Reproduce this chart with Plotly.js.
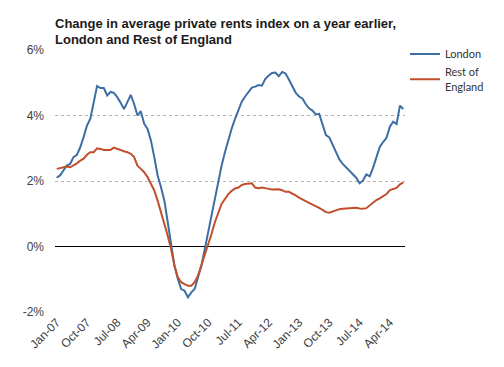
<!DOCTYPE html>
<html>
<head>
<meta charset="utf-8">
<script src="https://cdn.plot.ly/plotly-3.0.1.min.js"></script>
<style>
html,body{margin:0;padding:0;background:#fff;}
#chart{width:504px;height:367px;}
</style>
</head>
<body>
<div id="chart"></div>
<script>
// Monthly data, Jan-07 onwards (index 0 = Jan-07)
const london = [
2.10,2.17,2.32,2.47,2.52,2.73,2.80,3.03,3.34,3.69,
3.90,4.45,4.90,4.84,4.84,4.61,4.72,4.69,4.56,4.39,
4.20,4.41,4.63,4.36,4.00,4.13,3.75,3.59,3.24,2.73,
2.17,1.81,1.40,0.74,0.02,-0.59,-0.99,-1.30,-1.35,-1.55,
-1.40,-1.30,-0.94,-0.59,-0.08,0.43,1.05,1.55,2.06,2.47,
2.88,3.25,3.60,3.90,4.15,4.42,4.58,4.73,4.85,4.88,
4.93,4.91,5.12,5.22,5.30,5.31,5.20,5.33,5.28,5.10,
4.90,4.70,4.58,4.52,4.35,4.22,4.15,4.03,4.05,3.72,
3.40,3.33,3.10,2.87,2.66,2.52,2.42,2.30,2.19,2.10,
1.93,2.01,2.20,2.14,2.40,2.76,3.04,3.19,3.32,3.66,
3.81,3.74,4.30,4.20];
const restOfEngland = [
2.37,2.39,2.42,2.44,2.42,2.47,2.54,2.62,2.68,2.80,
2.88,2.88,3.00,2.98,2.95,2.95,2.95,3.02,2.98,2.93,
2.91,2.88,2.83,2.73,2.47,2.37,2.27,2.12,1.91,1.71,
1.40,1.05,0.64,0.33,-0.08,-0.59,-0.94,-1.09,-1.15,-1.20,
-1.20,-1.09,-0.89,-0.59,-0.28,0.02,0.38,0.74,1.05,1.30,
1.45,1.60,1.70,1.77,1.80,1.88,1.91,1.91,1.93,1.80,
1.78,1.80,1.77,1.76,1.74,1.75,1.75,1.72,1.67,1.67,
1.62,1.56,1.49,1.43,1.38,1.33,1.28,1.24,1.18,1.12,
1.05,1.03,1.07,1.11,1.14,1.15,1.16,1.16,1.17,1.18,
1.16,1.15,1.17,1.25,1.35,1.42,1.47,1.53,1.60,1.72,
1.76,1.79,1.90,1.96];
const xTickPos = [0,9,18,27,36,45,54,63,72,81,90,99];
const xTickLabels = ['Jan-07','Oct-07','Jul-08','Apr-09','Jan-10','Oct-10','Jul-11','Apr-12','Jan-13','Oct-13','Jul-14','Apr-14'];
const yTickVals = [-2,0,2,4,6];
const yTickLabels = ['-2%','0%','2%','4%','6%'];
const seriesNames = ['London','Rest of<br>England'];

const months = london.map((_, i) => i);

const traces = [
  {x: months, y: london, type: 'scatter', mode: 'lines', name: seriesNames[0],
   line: {color: '#3d6ea3', width: 2}},
  {x: months, y: restOfEngland, type: 'scatter', mode: 'lines', name: seriesNames[1],
   line: {color: '#c24f2b', width: 2}}
];

const AX_FONT = 'Liberation Sans, Arial, sans-serif';

const layout = {
  width: 504, height: 367,
  margin: {l: 55, r: 99, t: 50, b: 55},
  paper_bgcolor: '#fff', plot_bgcolor: '#fff',
  font: {family: AX_FONT, size: 12, color: '#404040'},
  title: {
    text: '<b>Change in average private rents index on a year earlier,<br>London and Rest of England</b>',
    font: {family: AX_FONT, size: 13, color: '#1a1a1a'},
    x: 0, xref: 'paper', xanchor: 'left', yref: 'container', y: 0.925, yanchor: 'top'
  },
  xaxis: {
    range: [-0.5, 103.5], tickmode: 'array', tickvals: xTickPos, ticktext: xTickLabels,
    tickangle: -45, showgrid: false, zeroline: false, showline: false, ticks: '',
    tickfont: {family: AX_FONT, size: 12, color: '#404040'}
  },
  yaxis: {
    range: [-2, 6], tickmode: 'array', tickvals: yTickVals, ticktext: yTickLabels,
    showgrid: true, gridcolor: '#b3b3b3', griddash: 'dot', gridwidth: 1,
    zeroline: true, zerolinecolor: '#000', zerolinewidth: 1, showline: false, ticks: '',
    ticklabelstandoff: 10,
    tickfont: {family: AX_FONT, size: 12, color: '#404040'}
  },
  showlegend: true,
  legend: {
    x: 1.0, xanchor: 'left', y: 1.04, yanchor: 'top',
    font: {family: 'Lato, Open Sans, sans-serif', size: 11, color: '#333'},
    bgcolor: 'rgba(0,0,0,0)', borderwidth: 0, tracegroupgap: 4
  }
};

Plotly.newPlot('chart', traces, layout, {staticPlot: true, displayModeBar: false});
</script>
</body>
</html>
